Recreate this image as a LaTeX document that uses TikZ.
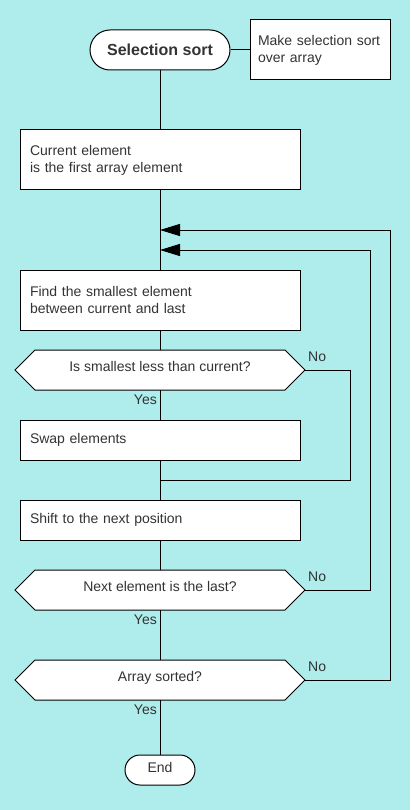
\documentclass[tikz,border=0pt]{standalone}
\usepackage{fontspec}
\setmainfont{Liberation Sans}
\usetikzlibrary{arrows.meta}
\definecolor{bg}{RGB}{175,237,237}
\definecolor{txt}{RGB}{51,51,51}
\begin{document}
\begin{tikzpicture}[x=1pt,y=-1pt,
  every node/.style={font=\fontsize{14}{17}\selectfont, text=txt},
  shapeline/.style={draw=black, line width=1pt, fill=white},
  conn/.style={draw=black, line width=1pt},
  arr/.style={conn, -{Triangle[length=20pt,width=12pt]}},
  box/.style={shapeline, minimum width=280pt, minimum height=60pt, inner xsep=10pt, inner ysep=0pt, text width=260pt, align=left},
  thinbox/.style={box, minimum height=40pt},
  note/.style={shapeline, minimum width=140pt, minimum height=60pt, inner xsep=8pt, inner ysep=0pt, text width=124pt, align=left},
  terminal/.style={shapeline, rounded corners=#1, minimum height=2*#1},
  dec/.style={minimum width=290pt, minimum height=40pt, inner sep=0pt, text height=10pt, text depth=7pt},
  lab/.style={inner sep=0pt}
]
\useasboundingbox[fill=bg] (0,0) rectangle (410,810);

% hexagon outlines for decisions
\foreach \yy in {370,590,680}{
  \draw[shapeline] (15,\yy) -- (35,\yy-20) -- (285,\yy-20) -- (305,\yy) -- (285,\yy+20) -- (35,\yy+20) -- cycle;
}

\node[terminal=20pt, minimum width=140pt, font=\fontsize{16}{19}\selectfont\bfseries] (start) at (160,50) {Selection sort};
\node[note] (note) at (320,50) {Make selection sort\\over array};
\node[box] (init) at (160,160) {Current element\\is the first array element};
\coordinate (j1) at (160,230);
\coordinate (j2) at (160,250);
\node[box] (find) at (160,300) {Find the smallest element\\between current and last};
\node[dec] (d1) at (160,370) {Is smallest less than current?};
\node[thinbox] (swap) at (160,440) {Swap elements};
\coordinate (m1) at (160,480);
\node[thinbox] (shift) at (160,520) {Shift to the next position};
\node[dec] (d2) at (160,590) {Next element is the last?};
\node[dec] (d3) at (160,680) {Array sorted?};
\node[terminal=15pt, minimum width=70pt, inner ysep=0pt, text height=10pt, text depth=6pt] (end) at (160,770) {End};

\draw[conn] (start.east) -- (note.west);
\draw[conn] (start) -- (init);
\draw[conn] (init) -- (find);
\draw[conn] (find) -- (d1);
\draw[conn] (d1) -- (swap);
\draw[conn] (swap) -- (shift);
\draw[conn] (shift) -- (d2);
\draw[conn] (d2) -- (d3);
\draw[conn] (d3) -- (end);

\draw[conn] (d1.east) -- (350,370) |- (m1);
\draw[arr] (d2.east) -- (370,590) |- (j2);
\draw[arr] (d3.east) -- (390,680) |- (j1);

\node[lab, anchor=west] (no1) at (308,357) {No};
\node[lab, anchor=west] (no2) at (308,577) {No};
\node[lab, anchor=west] (no3) at (308,667) {No};
\node[lab, anchor=east] (yes1) at (157,400) {Yes};
\node[lab, anchor=east] (yes2) at (157,620) {Yes};
\node[lab, anchor=east] (yes3) at (157,710) {Yes};
\end{tikzpicture}
\end{document}
